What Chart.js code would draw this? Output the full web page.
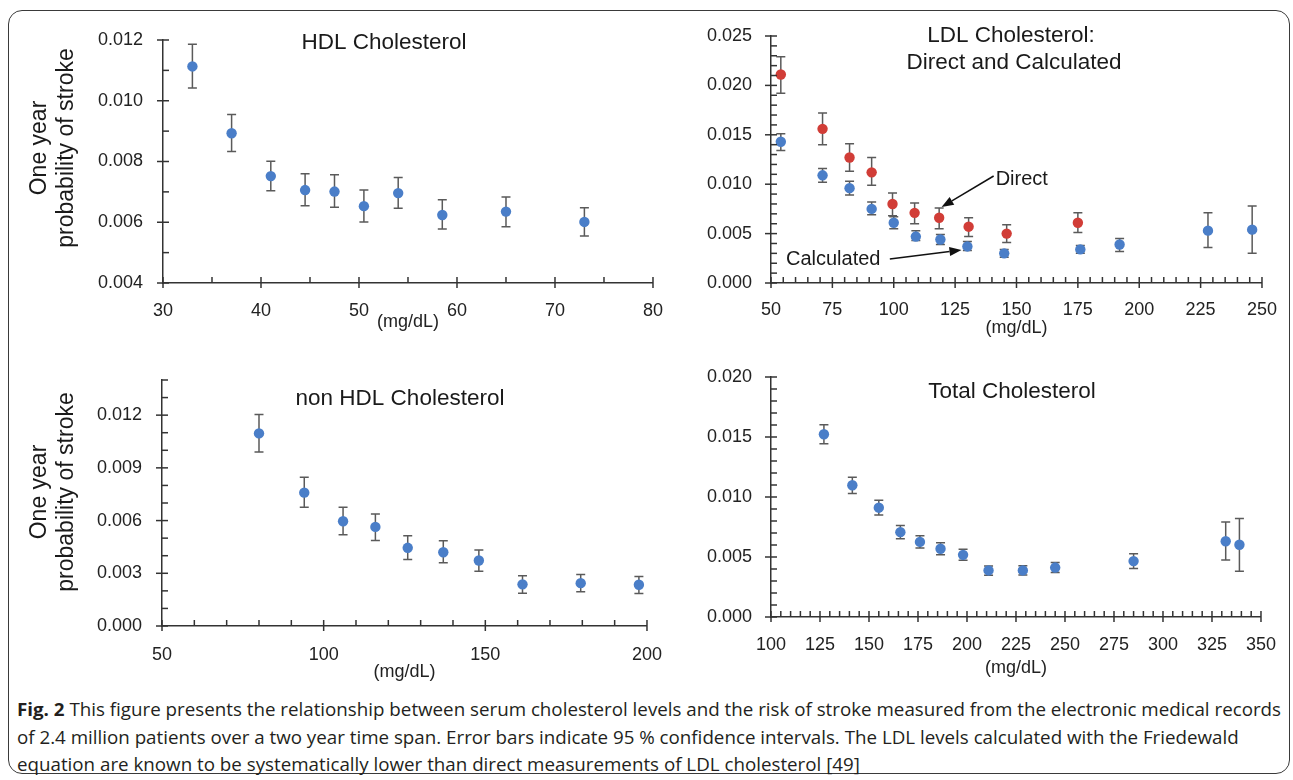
<!DOCTYPE html>
<html>
<head>
<meta charset="utf-8">
<title>Serum cholesterol and stroke risk</title>
<script src="https://cdn.jsdelivr.net/npm/chart.js@4.4.1/dist/chart.umd.min.js"></script>
<style>
  body { margin: 0; background: #fff; }
  #fig { position: relative; width: 1293px; height: 780px; overflow: hidden; }
  #frame { position: absolute; left: 8px; top: 10px; width: 1282px; height: 764px;
           border: 1.5px solid #3a3a3a; border-radius: 14px; box-sizing: border-box; }
  canvas { position: absolute; }
  #caption { position: absolute; left: 17px; top: 696px; color: #231f20;
             font-family: 'Open Sans', 'Noto Sans', sans-serif;
             font-size: 18px; line-height: 27.5px; transform-origin: left top; }
  #caption .ln { white-space: nowrap; }
</style>
</head>
<body>
<div id="fig">
  <div id="frame"></div>
  <canvas id="cHdl" width="680" height="345" style="left:0;top:0"></canvas>
  <canvas id="cLdl" width="653" height="345" style="left:640px;top:0"></canvas>
  <canvas id="cNon" width="680" height="340" style="left:0;top:345px"></canvas>
  <canvas id="cTot" width="653" height="340" style="left:640px;top:345px"></canvas>
  <div id="caption">
    <div class="ln"><span id="ln1"><b>Fig. 2</b> This figure presents the relationship between serum cholesterol levels and the risk of stroke measured from the electronic medical records</span></div>
    <div class="ln">of 2.4 million patients over a two year time span. Error bars indicate 95 % confidence intervals. The LDL levels calculated with the Friedewald</div>
    <div class="ln">equation are known to be systematically lower than direct measurements of LDL cholesterol [49]</div>
  </div>
</div>

<script>
// ---------------------------------------------------------------
// datos (mg/dL, probabilidad anual de ictus)
// ---------------------------------------------------------------

// HDL
const hdlX  = [33, 37, 41, 44.5, 47.5, 50.5, 54, 58.5, 65, 73];
const hdlY  = [0.01113, 0.00893, 0.00752, 0.00706, 0.00701, 0.00653, 0.00696, 0.00624, 0.00635, 0.00601];
const hdlLo = [0.01042, 0.00833, 0.00704, 0.00654, 0.00649, 0.00601, 0.00646, 0.00578, 0.00585, 0.00555];
const hdlHi = [0.01186, 0.00955, 0.00801, 0.00760, 0.00756, 0.00706, 0.00747, 0.00674, 0.00683, 0.00648];

// LDL directo
const ldlDirX  = [54, 71, 82, 91, 99.5, 108.5, 118.5, 130.5, 146, 175];
const ldlDirY  = [0.0211, 0.0156, 0.0127, 0.0112, 0.0080, 0.0071, 0.0066, 0.0057, 0.0050, 0.0061];
const ldlDirLo = [0.0192, 0.0140, 0.0113, 0.0099, 0.0068, 0.0060, 0.0055, 0.0047, 0.0041, 0.0051];
const ldlDirHi = [0.0229, 0.0172, 0.0141, 0.0127, 0.0091, 0.0081, 0.0076, 0.0066, 0.0059, 0.0071];

// LDL calculado (Friedewald)
const ldlCalX  = [54, 71, 82, 91, 100, 109, 119, 130, 145, 176, 192, 228, 246];
const ldlCalY  = [0.0143, 0.0109, 0.0096, 0.0075, 0.0061, 0.0047, 0.0044, 0.0037, 0.0030, 0.0034, 0.0039, 0.0053, 0.0054];
const ldlCalLo = [0.0134, 0.0102, 0.0089, 0.0069, 0.0055, 0.0043, 0.0039, 0.0033, 0.0026, 0.0030, 0.0032, 0.0036, 0.0030];
const ldlCalHi = [0.0151, 0.0116, 0.0103, 0.0082, 0.0067, 0.0053, 0.0049, 0.0042, 0.0034, 0.0038, 0.0045, 0.0071, 0.0078];

// no HDL
const nonX  = [80, 94, 106, 116, 126, 137, 148, 161.5, 179.5, 197.5];
const nonY  = [0.01096, 0.00759, 0.00596, 0.00564, 0.00445, 0.00420, 0.00373, 0.00237, 0.00244, 0.00235];
const nonLo = [0.00990, 0.00676, 0.00519, 0.00486, 0.00379, 0.00360, 0.00312, 0.00187, 0.00195, 0.00185];
const nonHi = [0.01204, 0.00846, 0.00676, 0.00638, 0.00513, 0.00485, 0.00432, 0.00286, 0.00293, 0.00282];

// colesterol total
const totX  = [127, 141.5, 155, 166, 176, 186.5, 198, 211, 228.5, 245, 285, 332, 339];
const totY  = [0.01523, 0.01098, 0.00911, 0.00707, 0.00626, 0.00569, 0.00518, 0.00388, 0.00388, 0.00412, 0.00466, 0.00631, 0.00602];
const totLo = [0.01444, 0.01030, 0.00851, 0.00653, 0.00575, 0.00518, 0.00472, 0.00347, 0.00350, 0.00371, 0.00404, 0.00474, 0.00382];
const totHi = [0.01602, 0.01165, 0.00973, 0.00762, 0.00678, 0.00618, 0.00564, 0.00425, 0.00428, 0.00455, 0.00528, 0.00791, 0.00821];

// marcas de los ejes (con etiqueta) y paso de las marcas menores
const hdlXTicks = [30, 40, 50, 60, 70, 80];
const hdlYTicks = [0.004, 0.006, 0.008, 0.010, 0.012];
const ldlXTicks = [50, 75, 100, 125, 150, 175, 200, 225, 250];
const ldlYTicks = [0.000, 0.005, 0.010, 0.015, 0.020, 0.025];
const nonXTicks = [50, 100, 150, 200];
const nonYTicks = [0.000, 0.003, 0.006, 0.009, 0.012];
const totXTicks = [100, 125, 150, 175, 200, 225, 250, 275, 300, 325, 350];
const totYTicks = [0.000, 0.005, 0.010, 0.015, 0.020];

const AXIS = '#333333';
const ERR  = '#5a5a5a';
const BLUE = '#4a7ec8';
const RED  = '#d13d37';
const FONT = "'Liberation Sans', Arial, sans-serif";

const toPoints = (xs, ys, lo, hi) => xs.map((x, i) => ({ x: x, y: ys[i], lo: lo[i], hi: hi[i] }));

function steps(a, b, st) {
    const out = [];
    const n = Math.round((b - a) / st);
    for (let i = 0; i <= n; i++) out.push(+(a + i * st).toFixed(6));
    return out;
}

// eje lineal con marcas menores sin etiqueta
function linAxis(min, max, majors, minorStep, digits, size, pad, title) {
    return {
        type: 'linear', min: min, max: max,
        afterBuildTicks: s => { s.ticks = steps(min, max, minorStep).map(v => ({ value: v })); },
        afterFit: s => { if (s.isHorizontal()) s.height = size; else s.width = size; },
        grid: { display: false, drawTicks: false },
        border: { display: true, color: AXIS, width: 1.5 },
        ticks: {
            autoSkip: false, maxRotation: 0, padding: pad, color: '#222',
            font: { family: FONT, size: 18 },
            callback: v => majors.some(m => Math.abs(m - v) < minorStep / 10) ? Number(v).toFixed(digits) : ''
        },
        title: title || { display: false }
    };
}

function xTitle(bottom) {
    return { display: true, text: '(mg/dL)', color: '#222', font: { family: FONT, size: 18 },
             padding: { top: 0, bottom: bottom } };
}

// barras de error (IC 95 %)
const errorBars = {
    id: 'errorBars',
    beforeDatasetsDraw(chart) {
        const { ctx, scales: { x, y } } = chart;
        ctx.save();
        ctx.strokeStyle = ERR;
        ctx.lineWidth = 1.5;
        chart.data.datasets.forEach(ds => ds.data.forEach(d => {
            const px = x.getPixelForValue(d.x);
            const top = y.getPixelForValue(d.hi);
            const bot = y.getPixelForValue(d.lo);
            ctx.beginPath();
            ctx.moveTo(px, top); ctx.lineTo(px, bot);
            ctx.moveTo(px - 4.5, top); ctx.lineTo(px + 4.5, top);
            ctx.moveTo(px - 4.5, bot); ctx.lineTo(px + 4.5, bot);
            ctx.stroke();
        }));
        ctx.restore();
    }
};

// marcas estilo Excel: mayores cruzan el eje, menores hacia dentro
const tickMarks = {
    id: 'tickMarks',
    afterDraw(chart) {
        const ctx = chart.ctx;
        const { left, bottom } = chart.chartArea;
        ctx.save();
        ctx.strokeStyle = AXIS;
        ctx.lineWidth = 1.5;
        ['x', 'y'].forEach(id => {
            const s = chart.scales[id];
            s.ticks.forEach(t => {
                const major = t.label !== '';
                const p = s.getPixelForValue(t.value);
                ctx.beginPath();
                if (id === 'x') {
                    ctx.moveTo(p, bottom - 6);
                    ctx.lineTo(p, major ? bottom + 5 : bottom);
                } else {
                    ctx.moveTo(major ? left - 6 : left, p);
                    ctx.lineTo(left + 6, p);
                }
                ctx.stroke();
            });
        });
        ctx.restore();
    }
};

// títulos, rótulos y flechas
const notes = {
    id: 'notes',
    afterDraw(chart, args, opts) {
        const ctx = chart.ctx;
        const xs = chart.scales.x, ys = chart.scales.y;
        ctx.save();
        ctx.fillStyle = '#1a1a1a';
        ctx.textBaseline = 'middle';
        (opts.texts || []).forEach(t => {
            let px = t.x, py = t.y;
            if (t.data) { px = xs.getPixelForValue(t.x); py = ys.getPixelForValue(t.y); }
            ctx.save();
            ctx.font = t.size + 'px ' + FONT;
            ctx.textAlign = t.align || 'center';
            ctx.translate(px, py);
            if (t.rotate) ctx.rotate(t.rotate * Math.PI / 180);
            ctx.fillText(t.text, 0, 0);
            ctx.restore();
        });
        (opts.arrows || []).forEach(a => {
            const x1 = xs.getPixelForValue(a.x1), y1 = ys.getPixelForValue(a.y1);
            const x2 = xs.getPixelForValue(a.x2), y2 = ys.getPixelForValue(a.y2);
            const ang = Math.atan2(y2 - y1, x2 - x1);
            const hl = 12, hw = 4.5;
            const bx = x2 - hl * Math.cos(ang), by = y2 - hl * Math.sin(ang);
            ctx.strokeStyle = '#111';
            ctx.fillStyle = '#111';
            ctx.lineWidth = 1.5;
            ctx.beginPath(); ctx.moveTo(x1, y1); ctx.lineTo(bx, by); ctx.stroke();
            ctx.beginPath();
            ctx.moveTo(x2, y2);
            ctx.lineTo(bx + hw * Math.sin(ang), by - hw * Math.cos(ang));
            ctx.lineTo(bx - hw * Math.sin(ang), by + hw * Math.cos(ang));
            ctx.closePath(); ctx.fill();
        });
        ctx.restore();
    }
};

function series(points, color) {
    return { data: points, pointRadius: 5.2, pointHoverRadius: 5.2, pointBorderWidth: 0,
             backgroundColor: color, borderColor: color, showLine: false };
}

function makeChart(id, datasets, xAx, yAx, pad, noteOpts) {
    return new Chart(document.getElementById(id), {
        type: 'scatter',
        data: { datasets: datasets },
        options: {
            responsive: false, animation: false, devicePixelRatio: 1, events: [],
            layout: { padding: { top: pad.top, right: pad.right, bottom: 0, left: 0 } },
            scales: { x: xAx, y: yAx },
            plugins: { legend: { display: false }, tooltip: { enabled: false }, notes: noteOpts }
        },
        plugins: [errorBars, tickMarks, notes]
    });
}

const yTitle = cy => [
    { text: 'One year', x: 40, y: cy, size: 23, rotate: -90 },
    { text: 'probability of stroke', x: 67, y: cy, size: 23, rotate: -90 }
];

// -------- panel 1: HDL --------
makeChart('cHdl',
    [series(toPoints(hdlX, hdlY, hdlLo, hdlHi), BLUE)],
    linAxis(30, 80, hdlXTicks, 5, 0, 62, 17, xTitle(12)),
    linAxis(0.004, 0.012, hdlYTicks, 0.001, 3, 163, 20),
    { top: 40, right: 25 },
    { texts: yTitle(148).concat([{ text: 'HDL Cholesterol', x: 384, y: 43, size: 22.5 }]) });

// -------- panel 2: LDL --------
makeChart('cLdl',
    [series(toPoints(ldlCalX, ldlCalY, ldlCalLo, ldlCalHi), BLUE),
     series(toPoints(ldlDirX, ldlDirY, ldlDirLo, ldlDirHi), RED)],
    linAxis(50, 250, ldlXTicks, 5, 0, 62, 16, xTitle(6)),
    linAxis(0, 0.025, ldlYTicks, 0.001, 3, 131, 19),
    { top: 36, right: 30 },
    {
        texts: [
            { text: 'LDL Cholesterol:', x: 371, y: 36, size: 22.5 },
            { text: 'Direct and Calculated', x: 374, y: 63, size: 22.5 },
            { text: 'Direct', x: 141.5, y: 0.01043, size: 20, align: 'left', data: true },
            { text: 'Calculated', x: 56.1, y: 0.00233, size: 20, align: 'left', data: true }
        ],
        arrows: [
            { x1: 140.7, y1: 0.01083, x2: 119.5, y2: 0.00769 },
            { x1: 98.4, y1: 0.00243, x2: 127.6, y2: 0.00334 }
        ]
    });

// -------- panel 3: no HDL --------
makeChart('cNon',
    [series(toPoints(nonX, nonY, nonLo, nonHi), BLUE)],
    linAxis(50, 200, nonXTicks, 10, 0, 59, 18, xTitle(2)),
    linAxis(0, 0.014, nonYTicks, 0.001, 3, 162, 20),
    { top: 35, right: 29 },
    { texts: yTitle(147).concat([{ text: 'non HDL Cholesterol', x: 400, y: 54, size: 22.5 }]) });

// -------- panel 4: total --------
makeChart('cTot',
    [series(toPoints(totX, totY, totLo, totHi), BLUE)],
    linAxis(100, 350, totXTicks, 5, 0, 68, 17, xTitle(6)),
    linAxis(0, 0.020, totYTicks, 0.001, 3, 131, 19),
    { top: 32, right: 30 },
    { texts: [{ text: 'Total Cholesterol', x: 372, y: 47, size: 22.5 }] });

// leyenda de la figura: estirar para ocupar el ancho original
const cap = document.getElementById('caption');
const w1 = document.getElementById('ln1').getBoundingClientRect().width;
if (w1 > 0) cap.style.transform = 'scaleX(' + (1264 / w1) + ')';
</script>
</body>
</html>
